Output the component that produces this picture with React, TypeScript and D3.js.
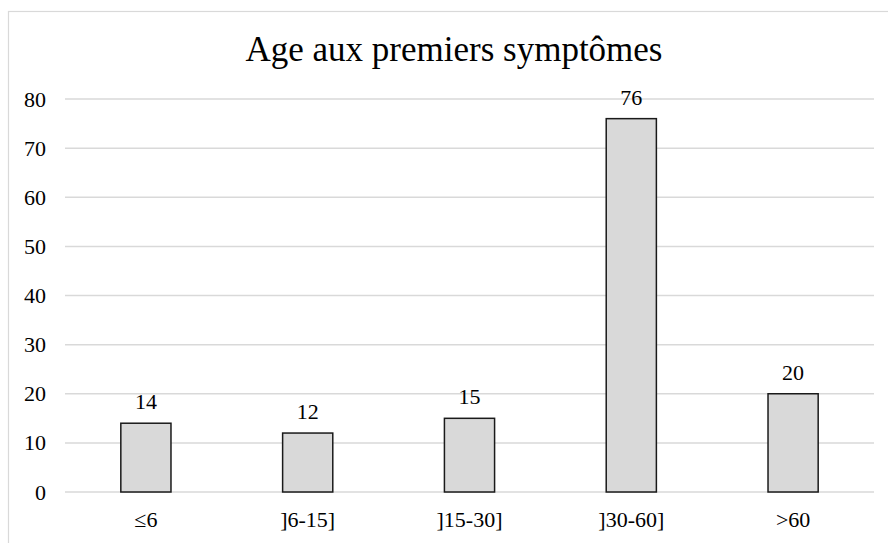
import * as d3 from 'd3';
import React, { useEffect, useRef } from 'react';

const categories = ['≤6', ']6-15]', ']15-30]', ']30-60]', '>60'];
const counts = [14, 12, 15, 76, 20];
const yTicks = [0, 10, 20, 30, 40, 50, 60, 70, 80];
const title = 'Age aux premiers symptômes';

const App = () => {
    const chartArea = useRef<SVGSVGElement | null>(null);
    const W = 888, H = 543;
    const margin = { top: 99, right: 14, bottom: 51, left: 65 },
        width = W - margin.left - margin.right,
        height = H - margin.top - margin.bottom;

    useEffect(() => {
        const root = d3.select(chartArea.current);
        root.selectAll('*').remove();

        // chart frame (runs off the right/bottom edge like the original)
        root.append('rect')
            .attr('x', 8.5).attr('y', 11.5)
            .attr('width', W).attr('height', H)
            .attr('fill', 'white')
            .attr('stroke', '#d9d9d9')
            .attr('stroke-width', 1.2);

        root.append('text')
            .attr('x', 454).attr('y', 61)
            .attr('text-anchor', 'middle')
            .attr('font-size', 35)
            .attr('fill', '#000')
            .text(title);

        const svg = root.append('g')
            .attr('transform', 'translate(' + margin.left + ',' + margin.top + ')');

        const x = d3.scaleBand()
            .range([0, width])
            .domain(categories)
            .paddingInner(0.69)
            .paddingOuter(0.345);

        const y = d3.scaleLinear()
            .domain([0, 80])
            .range([height, 0]);

        // gridlines
        svg.append('g')
            .selectAll('line')
            .data(yTicks)
            .join('line')
            .attr('x1', 0).attr('x2', width)
            .attr('y1', d => y(d)).attr('y2', d => y(d))
            .attr('stroke', '#d9d9d9')
            .attr('stroke-width', 1.5);

        // y axis labels
        const yAxis = svg.append('g')
            .call(d3.axisLeft(y).tickValues(yTicks).tickSize(0).tickPadding(19));
        yAxis.select('.domain').remove();
        yAxis.selectAll('text').attr('font-size', 22).attr('font-family', '"Liberation Serif", serif').attr('fill', '#000');

        // x axis labels
        const xAxis = svg.append('g')
            .attr('transform', 'translate(0,' + height + ')')
            .call(d3.axisBottom(x).tickSize(0).tickPadding(19));
        xAxis.select('.domain').remove();
        xAxis.selectAll('text').attr('font-size', 22).attr('font-family', '"Liberation Serif", serif').attr('fill', '#000');

        // bars
        svg.selectAll('rect.bar')
            .data(counts)
            .join('rect')
            .attr('class', 'bar')
            .attr('x', (d, i) => x(categories[i]) as number)
            .attr('y', d => y(d))
            .attr('width', x.bandwidth())
            .attr('height', d => height - y(d))
            .attr('fill', '#d9d9d9')
            .attr('stroke', '#1a1a1a')
            .attr('stroke-width', 1.5);

        // value labels
        svg.selectAll('text.val')
            .data(counts)
            .join('text')
            .attr('class', 'val')
            .attr('x', (d, i) => (x(categories[i]) as number) + x.bandwidth() / 2)
            .attr('y', d => y(d) - 14)
            .attr('text-anchor', 'middle')
            .attr('font-size', 22)
            .attr('fill', '#000')
            .text(d => d);
    }, []);

    return <svg
        ref={chartArea}
        width={W}
        height={H}
        style={{ position: 'absolute', left: 0, top: 0, fontFamily: '"Liberation Serif", "Times New Roman", serif' }}
    />;
}
export default App;
